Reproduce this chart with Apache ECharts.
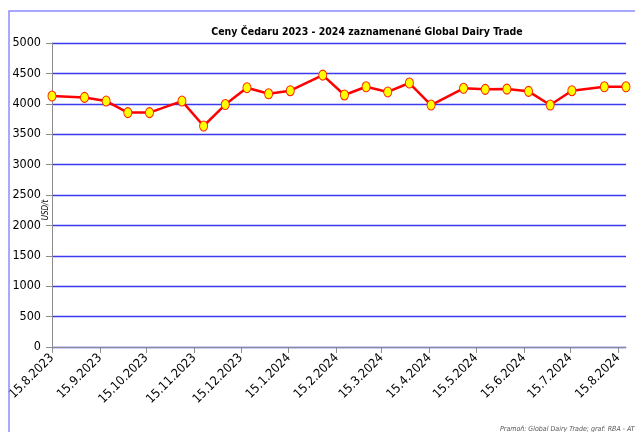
<!DOCTYPE html>
<html>
<head>
<meta charset="utf-8">
<script src="https://cdn.jsdelivr.net/npm/echarts@6/dist/echarts.min.js"></script>
<style>
html,body{margin:0;padding:0;background:#fff;}
#chart{width:635px;height:432px;}
</style>
</head>
<body>
<div id="chart"></div>
<script>
// Data
var titleText = 'Ceny Čedaru 2023 - 2024 zaznamenané Global Dairy Trade';
var yAxisName = 'USD/t';
var sourceText = 'Pramoň: Global Dairy Trade; graf: RBA - ATI';
var auctionDates = [
  '2023-08-15','2023-09-05','2023-09-19','2023-10-03','2023-10-17',
  '2023-11-07','2023-11-21','2023-12-05','2023-12-19','2024-01-02',
  '2024-01-16','2024-02-06','2024-02-20','2024-03-05','2024-03-19',
  '2024-04-02','2024-04-16','2024-05-07','2024-05-21','2024-06-04',
  '2024-06-18','2024-07-02','2024-07-16','2024-08-06','2024-08-20'
];
var prices = [
  4128, 4105, 4045, 3855, 3855,
  4045, 3635, 3988, 4265, 4165,
  4215, 4472, 4145, 4280, 4195,
  4342, 3980, 4255, 4238, 4242,
  4205, 3980, 4215, 4280, 4280
];
var tickDates = [
  '2023-08-15','2023-09-15','2023-10-15','2023-11-15','2023-12-15',
  '2024-01-15','2024-02-15','2024-03-15','2024-04-15','2024-05-15',
  '2024-06-15','2024-07-15','2024-08-15'
];
var xMin = '2023-08-15';
var xMax = '2024-08-20';

function toTs(s){
  var p = s.split('-');
  return Date.UTC(+p[0], +p[1]-1, +p[2]);
}
var seriesData = auctionDates.map(function(d,i){ return [toTs(d), prices[i]]; });
var tickTs = tickDates.map(toTs);

var chart = echarts.init(document.getElementById('chart'), null, {renderer:'canvas'});
var fontFam = '"DejaVu Sans Condensed",Lato,sans-serif';
chart.setOption({
  backgroundColor: '#ffffff',
  animation: false,
  title: {
    text: titleText,
    left: 362, top: 22, textAlign: 'center',
    textStyle: {fontFamily: fontFam, fontWeight: 'bold', fontSize: 10.5, color: '#000'}
  },
  grid: {left: 52, right: 9, top: 43, bottom: 85, containLabel: false},
  xAxis: {
    type: 'value',
    min: toTs(xMin), max: toTs(xMax),
    axisLine: {show: true, lineStyle: {color: '#8c8c8c', width: 1}},
    axisTick: {show: true, customValues: tickTs, length: 6, lineStyle: {color: '#8c8c8c'}},
    axisLabel: {
      customValues: tickTs,
      rotate: 45,
      margin: 9,
      fontFamily: fontFam, fontSize: 12.5, color: '#000',
      formatter: function(v){
        var d = new Date(v);
        return d.getUTCDate() + '.' + (d.getUTCMonth()+1) + '.' + d.getUTCFullYear();
      }
    },
    splitLine: {show: false}
  },
  yAxis: {
    type: 'value', min: 0, max: 5000, interval: 500,
    axisLine: {show: true, lineStyle: {color: '#8c8c8c', width: 1}},
    axisTick: {show: true, inside: false, length: 6, lineStyle: {color: '#8c8c8c'}},
    axisLabel: {fontFamily: fontFam, fontSize: 12.5, color: '#000', margin: 11,
      formatter: function(v){ return String(v); }},
    splitLine: {show: true, lineStyle: {color: '#3a3aee', width: 1.3}}
  },
  series: [{
    type: 'line',
    data: seriesData,
    lineStyle: {color: '#ff0000', width: 2.5},
    symbol: 'circle',
    symbolSize: [8, 10],
    itemStyle: {color: '#ffff00', borderColor: '#ff2000', borderWidth: 1},
    z: 5
  }],
  graphic: [
    {type: 'rect', shape: {x: 9, y: 11, width: 700, height: 500},
     style: {fill: 'none', stroke: '#8c8cff', lineWidth: 1.5}, silent: true, z: 100},
    {type: 'text', x: 46, y: 210, rotation: Math.PI/2,
     style: {text: yAxisName, fontFamily: fontFam, fontStyle: 'italic', fontSize: 8, fill: '#000',
             align: 'center', verticalAlign: 'middle'}},
    {type: 'text', x: 500, y: 429,
     style: {text: sourceText, fontFamily: fontFam, fontStyle: 'italic', fontSize: 7, fill: '#555',
             align: 'left', verticalAlign: 'middle'}}
  ]
});
</script>
</body>
</html>
